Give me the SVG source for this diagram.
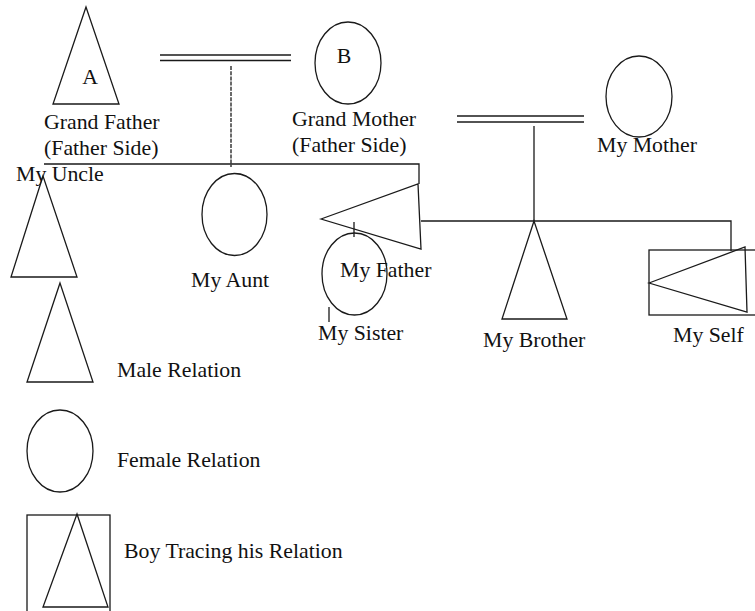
<svg xmlns="http://www.w3.org/2000/svg" width="755" height="611" viewBox="0 0 755 611">
<style>
.s{fill:none;stroke:#1a1a1a;stroke-width:1.3}
.t{font-family:"Liberation Serif","Times New Roman",serif;font-size:21.8px;fill:#111}
</style>
<rect width="755" height="611" fill="#fff"/>
<g id="connectors" class="s">
<line x1="160" y1="55" x2="291" y2="55"/>
<line x1="160" y1="60.5" x2="291" y2="60.5"/>
<line x1="231" y1="66" x2="231" y2="167" stroke-dasharray="4,1.2"/>
<polyline points="44,164 419,164 419,184"/>
<line x1="457" y1="116" x2="584" y2="116"/>
<line x1="457" y1="122" x2="584" y2="122"/>
<line x1="534" y1="126" x2="534" y2="221"/>
<polyline points="421,221 731,221 731,251"/>
<line x1="354" y1="222" x2="354" y2="237"/>
<line x1="329" y1="307" x2="329" y2="322"/>
</g>
<g id="grandfather">
<polygon class="s" points="86,7 53,104 119,104"/>
<text class="t" x="90" y="84" text-anchor="middle">A</text>
<text class="t" x="44" y="129">Grand Father</text>
<text class="t" x="44" y="155">(Father Side)</text>
</g>
<g id="grandmother">
<ellipse class="s" cx="348" cy="63" rx="33" ry="41"/>
<text class="t" x="344" y="63" text-anchor="middle">B</text>
<text class="t" x="292" y="126">Grand Mother</text>
<text class="t" x="292" y="152">(Father Side)</text>
</g>
<g id="uncle">
<polygon class="s" points="43,176 11,277 77,277"/>
<text class="t" x="16" y="181">My Uncle</text>
</g>
<g id="aunt">
<ellipse class="s" cx="234.5" cy="214.5" rx="32.5" ry="41"/>
<text class="t" x="191" y="287">My Aunt</text>
</g>
<g id="father">
<polygon class="s" points="321,219 418,184 421,249"/>
<text class="t" x="340" y="277">My Father</text>
</g>
<g id="sister">
<ellipse class="s" cx="354.5" cy="274" rx="32.5" ry="41"/>
<text class="t" x="318" y="340">My Sister</text>
</g>
<g id="brother">
<polygon class="s" points="534,221 502,319 567,319"/>
<text class="t" x="483" y="347">My Brother</text>
</g>
<g id="mother">
<ellipse class="s" cx="639" cy="96.5" rx="33" ry="40.5"/>
<text class="t" x="597" y="152">My Mother</text>
</g>
<g id="self">
<rect class="s" x="649" y="250" width="110" height="65"/>
<polygon class="s" points="649,283 745,247 747,312"/>
<text class="t" x="673" y="342">My Self</text>
</g>
<g id="legend-male">
<polygon class="s" points="60,283 27,382 93,382"/>
<text class="t" x="117" y="377">Male Relation</text>
</g>
<g id="legend-female">
<ellipse class="s" cx="60" cy="451" rx="33" ry="41"/>
<text class="t" x="117" y="467">Female Relation</text>
</g>
<g id="legend-boy">
<rect class="s" x="27" y="515" width="83" height="110"/>
<polygon class="s" points="77,514 43,607 108,607"/>
<text class="t" x="124" y="558">Boy Tracing his Relation</text>
</g>
</svg>
